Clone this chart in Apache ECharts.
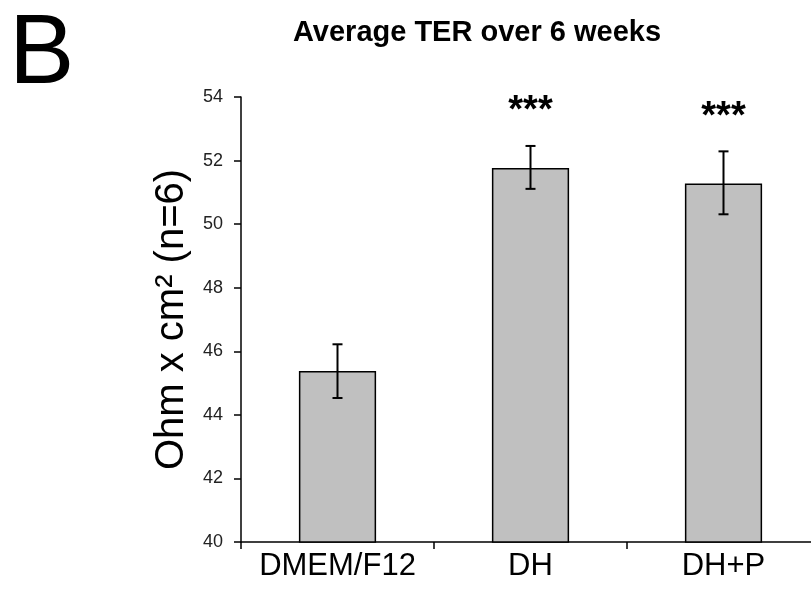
<!DOCTYPE html>
<html>
<head>
<meta charset="utf-8">
<script src="https://cdn.jsdelivr.net/npm/echarts@6/dist/echarts.min.js"></script>
<style>
  html, body { margin: 0; padding: 0; background: #fff; }
  #chart { width: 811px; height: 591px; }
</style>
</head>
<body>
<div id="chart"></div>
<script>
// data
const categories = ['DMEM/F12', 'DH', 'DH+P'];
const means = [45.38, 51.77, 51.28];
const errLow = [44.53, 51.11, 50.31];
const errHigh = [46.22, 52.46, 52.29];
const stars = ['', '***', '***'];
const yTicks = { min: 40, max: 54, interval: 2 };

const font = 'Liberation Sans, Arial, sans-serif';
const chart = echarts.init(document.getElementById('chart'));

chart.setOption({
  backgroundColor: '#fff',
  animation: false,
  title: [
    {
      text: 'Average TER over 6 weeks',
      left: 472, top: 13, textAlign: 'center',
      textStyle: { fontFamily: font, fontWeight: 'bold', fontSize: 29, color: '#000' }
    },
    {
      text: 'B',
      left: 4, top: 2,
      textStyle: { fontFamily: font, fontWeight: 'normal', fontSize: 98, color: '#000' }
    }
  ],
  // the plot runs a little past the right edge of the picture
  grid: { left: 241, width: 579, top: 97, height: 445, containLabel: false, outerBoundsMode: 'none' },
  xAxis: {
    type: 'category',
    data: categories,
    axisLine: { lineStyle: { color: '#000', width: 1.5 } },
    axisTick: { show: true, length: 7, alignWithLabel: false, lineStyle: { color: '#000', width: 1.5 } },
    axisLabel: { fontFamily: font, fontSize: 31, color: '#000', margin: 9, interval: 0, hideOverlap: false }
  },
  yAxis: {
    type: 'value',
    min: yTicks.min, max: yTicks.max, interval: yTicks.interval,
    name: 'Ohm x cm² (n=6)',
    nameLocation: 'middle',
    nameGap: 45,
    nameTextStyle: { fontFamily: font, fontSize: 40, color: '#000' },
    axisLine: { show: true, lineStyle: { color: '#000', width: 1.5 } },
    axisTick: { show: true, length: 7, lineStyle: { color: '#000', width: 1.5 } },
    axisLabel: { fontFamily: font, fontSize: 18, color: '#222', margin: 18 },
    splitLine: { show: false }
  },
  series: [
    {
      type: 'bar',
      data: means,
      barWidth: '40%',
      itemStyle: { color: '#c0c0c0', borderColor: '#000', borderWidth: 1.5 }
    },
    {
      type: 'custom',
      data: categories.map((c, i) => [i, errLow[i], errHigh[i]]),
      z: 10,
      renderItem: function (params, api) {
        const i = api.value(0);
        const lo = api.coord([i, api.value(1)]);
        const hi = api.coord([i, api.value(2)]);
        const x = lo[0], half = 5;
        const style = { stroke: '#000', lineWidth: 2 };
        const children = [
          { type: 'line', shape: { x1: x, y1: lo[1], x2: x, y2: hi[1] }, style: style },
          { type: 'line', shape: { x1: x - half, y1: lo[1], x2: x + half, y2: lo[1] }, style: style },
          { type: 'line', shape: { x1: x - half, y1: hi[1], x2: x + half, y2: hi[1] }, style: style }
        ];
        if (stars[i]) {
          children.push({
            type: 'text',
            style: {
              x: x, y: hi[1] - 34, text: stars[i],
              font: 'bold 38px ' + font, fill: '#000',
              textAlign: 'center', textVerticalAlign: 'middle'
            }
          });
        }
        return { type: 'group', children: children };
      }
    }
  ]
});
</script>
</body>
</html>
